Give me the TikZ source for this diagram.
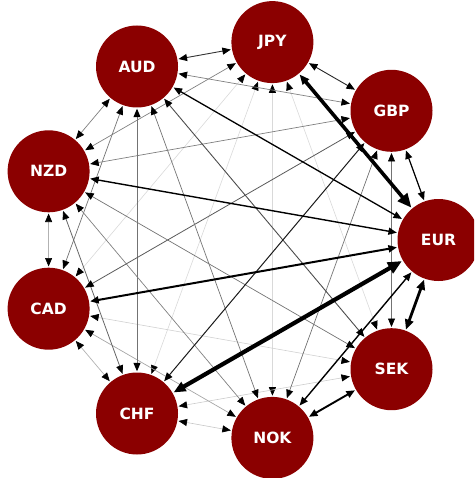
\documentclass[tikz,border=0pt]{standalone}
\usepackage{fontspec}
\setmainfont{DejaVu Sans}
\usetikzlibrary{arrows.meta}
\definecolor{nodered}{RGB}{139,0,0}
\tikzset{
  cur/.style={circle, fill=nodered, minimum size=82pt, inner sep=0pt, text=white,
    font=\fontsize{15.5}{15.5}\selectfont\bfseries},
  e/.style={{Triangle[length=8.5pt,width=7pt,color=black]}-{Triangle[length=8.5pt,width=7pt,color=black]}, line width=0.7pt, shorten <=1pt, shorten >=1pt},
  emed/.style={{Triangle[length=10pt,width=8.5pt,color=black]}-{Triangle[length=10pt,width=8.5pt,color=black]}},
  ebig/.style={{Triangle[length=10pt,width=8pt,color=black]}-{Triangle[length=14pt,width=12pt,color=black]}},
  ebb/.style={{Triangle[length=12pt,width=10pt,color=black]}-{Triangle[length=14pt,width=12pt,color=black]}},
}
\begin{document}
\begin{tikzpicture}[x=1pt,y=-1pt]
\useasboundingbox (0,0) rectangle (474,478);
\clip (0,0) rectangle (474,478);
\node[cur] (EUR) at (438.5,240) {EUR};
\node[cur] (GBP) at (391.5,110.8) {GBP};
\node[cur] (JPY) at (272.4,42.1) {JPY};
\node[cur] (AUD) at (137,66.5) {AUD};
\node[cur] (NZD) at (48.6,171.3) {NZD};
\node[cur] (CAD) at (48.6,308.7) {CAD};
\node[cur] (CHF) at (137,413.5) {CHF};
\node[cur] (NOK) at (272.4,437.9) {NOK};
\node[cur] (SEK) at (391.5,369.2) {SEK};
% very light edges
\draw[e, black!15, line width=0.6pt] (JPY) -- (CAD);
\draw[e, black!15, line width=0.6pt] (JPY) -- (SEK);
\draw[e, black!15, line width=0.6pt] (JPY) -- (CHF);
\draw[e, black!15, line width=0.6pt] (JPY) -- (NOK);
\draw[e, black!18, line width=0.6pt] (CAD) -- (SEK);
\draw[e, black!20, line width=0.6pt] (CHF) -- (SEK);
\draw[e, black!22, line width=0.6pt] (CHF) -- (NOK);
% light edges
\draw[e, black!30, line width=0.7pt] (NZD) -- (CAD);
\draw[e, black!30, line width=0.7pt] (CAD) -- (CHF);
\draw[e, black!35, line width=0.7pt] (CAD) -- (NOK);
% gray edges
\draw[e, black!50, line width=0.7pt] (AUD) -- (NZD);
\draw[e, black!50, line width=0.7pt] (GBP) -- (AUD);
\draw[e, black!55, line width=0.8pt] (GBP) -- (SEK);
\draw[e, black!50, line width=0.7pt] (JPY) -- (NZD);
\draw[e, black!55, line width=0.7pt] (AUD) -- (CAD);
\draw[e, black!60, line width=0.8pt] (NZD) -- (CHF);
\draw[e, black!50, line width=0.7pt] (GBP) -- (NZD);
\draw[e, black!55, line width=0.7pt] (GBP) -- (NOK);
\draw[e, black!55, line width=1pt] (AUD) -- (CHF);
\draw[e, black!50, line width=0.7pt] (NZD) -- (NOK);
\draw[e, black!65, line width=0.8pt] (GBP) -- (CAD);
\draw[e, black!55, line width=0.7pt] (AUD) -- (NOK);
\draw[e, black!70, line width=0.9pt] (AUD) -- (SEK);
\draw[e, black!55, line width=0.7pt] (NZD) -- (SEK);
% dark edges
\draw[e, black!85, line width=0.9pt] (GBP) -- (JPY);
\draw[e, black!80, line width=0.9pt] (JPY) -- (AUD);
\draw[e, black!90, line width=1pt] (GBP) -- (CHF);
\draw[e, black, line width=1.2pt] (EUR) -- (GBP);
\draw[e, black, line width=1.3pt] (EUR) -- (AUD);
\draw[e, black, line width=1.4pt] (EUR) -- (NZD);
\draw[e, black, line width=1.4pt] (EUR) -- (NOK);
\draw[e, black, line width=1.9pt] (NOK) -- (SEK);
\draw[e, black, line width=2pt] (CAD) -- (EUR);
% thick edges
\draw[e, emed, black, line width=2.8pt] (SEK) -- (EUR);
\draw[e, ebig, black, line width=3.6pt] (JPY) -- (EUR);
\draw[e, ebb, black, line width=4.2pt] (CHF) -- (EUR);
\end{tikzpicture}
\end{document}
